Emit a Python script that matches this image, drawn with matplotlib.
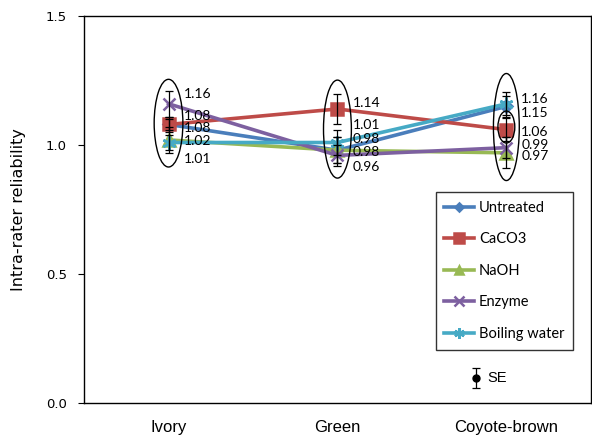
import matplotlib
matplotlib.use("Agg")
import matplotlib.pyplot as plt
from matplotlib.patches import Ellipse
import numpy as np

categories = ["Ivory", "Green", "Coyote-brown"]
series = ["Untreated", "CaCO3", "NaOH", "Enzyme", "Boiling water"]

untreated = [1.08, 0.98, 1.15]
caco3 = [1.08, 1.14, 1.06]
naoh = [1.02, 0.98, 0.97]
enzyme = [1.16, 0.96, 0.99]
boiling = [1.01, 1.01, 1.16]

# standard errors
se_untreated = [0.03, 0.05, 0.04]
se_caco3 = [0.02, 0.06, 0.045]
se_naoh = [0.05, 0.05, 0.06]
se_enzyme = [0.05, 0.04, 0.04]
se_boiling = [0.03, 0.05, 0.045]

values = [untreated, caco3, naoh, enzyme, boiling]
errors = [se_untreated, se_caco3, se_naoh, se_enzyme, se_boiling]

colors = ["#4A7EBB", "#BE4B48", "#98B954", "#7D60A0", "#46AAC5"]
markers = ["D", "s", "^", "x", (6, 2, 0)]
msizes = [6, 9, 8, 9, 10]

# vertical nudges (pixels) of the value labels, per series per category
label_dy = [
    [-4, 11, -7],
    [8, 6, -2],
    [-1, -2, -3],
    [10, -12, 3],
    [-16, 18, 5],
]

x = np.arange(1, len(categories) + 1)

fig = plt.figure(figsize=(5.92, 4.36), dpi=100)
ax = fig.add_axes([0.142, 0.0757, 0.856, 0.8873])

for vals, c, m, ms, name in zip(values, colors, markers, msizes, series):
    ax.plot(x, vals, color=c, linewidth=2.6, marker=m, markersize=ms,
            markeredgewidth=1.8, markerfacecolor=c, markeredgecolor=c,
            label=name, zorder=3)

for vals, errs in zip(values, errors):
    ax.errorbar(x, vals, yerr=errs, fmt="none", ecolor="black",
                elinewidth=0.9, capsize=3, capthick=0.9, zorder=4)

for vals, dys in zip(values, label_dy):
    for xi, v, dy in zip(x, vals, dys):
        ax.annotate(f"{v:.2f}", (xi, v), xytext=(15, dy),
                    textcoords="offset pixels", ha="left", va="center",
                    fontsize=10, family="Lato", zorder=5)

# ellipses around each category's cluster
ells = [(1, 1.085, 0.17, 0.34), (2, 1.062, 0.165, 0.38),
        (3, 1.07, 0.153, 0.415), (3, 1.07, 0.10, 0.124)]
for cx, cy, w, h in ells:
    ax.add_patch(Ellipse((cx, cy), w, h, fill=False, edgecolor="black",
                         linewidth=1.0, zorder=5))

# SE key
ax.errorbar([2.82], [0.097], yerr=[0.04], fmt="o", color="black",
            markersize=5, elinewidth=0.9, capsize=3, capthick=0.9)
ax.text(2.89, 0.097, "SE", ha="left", va="center", fontsize=10.5,
        family="Liberation Sans")

ax.set_xlim(0.5, 3.5)
ax.set_ylim(0, 1.5)
ax.set_yticks([0, 0.5, 1.0, 1.5])
ax.set_yticklabels(["0.0", "0.5", "1.0", "1.5"], fontsize=9.5)
ax.set_xticks(x)
ax.set_xticklabels(categories, fontsize=12, family="Liberation Sans")
ax.tick_params(axis="x", length=0, pad=12)
ax.tick_params(axis="y", length=4.5, direction="out", pad=8)
ax.set_ylabel("Intra-rater reliability", fontsize=11.5, labelpad=14,
              family="DejaVu Sans")
for s in ax.spines.values():
    s.set_linewidth(1.0)

leg = ax.legend(loc="upper left", bbox_to_anchor=(0.694, 0.545),
                borderaxespad=0, frameon=True, fancybox=False,
                edgecolor="black", handlelength=2.0, labelspacing=1.2,
                borderpad=0.6, handletextpad=0.35, markerscale=0.75,
                prop={"family": "Lato", "size": 10.5})
leg.get_frame().set_linewidth(1.0)

fig.savefig("out.png", dpi=100)
